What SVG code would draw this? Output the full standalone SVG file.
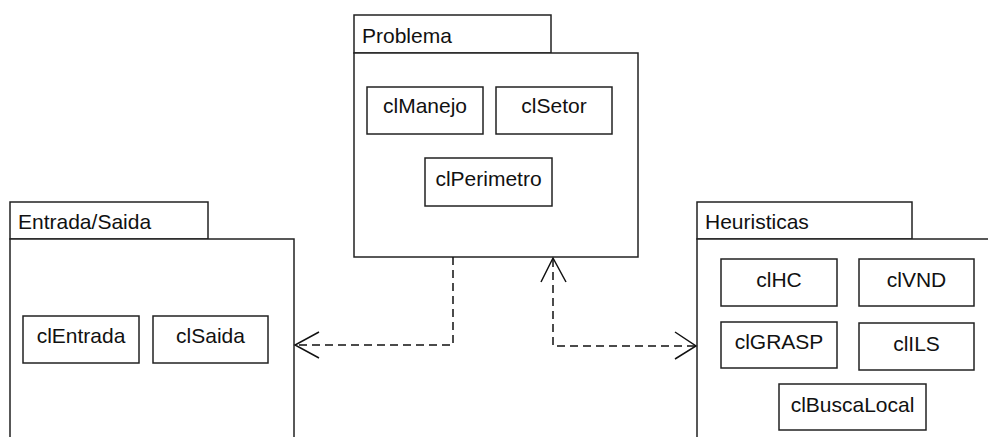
<svg xmlns="http://www.w3.org/2000/svg" width="988" height="437" viewBox="0 0 988 437">
<defs>
<style>
.box{fill:#fff;stroke:#222;stroke-width:1.5}
.t{font-family:"Liberation Sans",Arial,sans-serif;font-size:21px;fill:#111}
.c{text-anchor:middle}
.dash{fill:none;stroke:#111;stroke-width:1.5;stroke-dasharray:8,5}
.head{fill:none;stroke:#111;stroke-width:1.5}
</style>
</defs>
<rect width="988" height="437" fill="#fff"/>
<g id="pkg-problema">
<rect class="box" x="354" y="15" width="197" height="38"/>
<rect class="box" x="354" y="53" width="284" height="204"/>
<text class="t" x="362" y="43">Problema</text>
<g id="clManejo"><rect class="box" x="367" y="87" width="116" height="47"/><text class="t c" x="425" y="113">clManejo</text></g>
<g id="clSetor"><rect class="box" x="496" y="87" width="116" height="47"/><text class="t c" x="554" y="113">clSetor</text></g>
<g id="clPerimetro"><rect class="box" x="425" y="158" width="127" height="48"/><text class="t c" x="488.5" y="186">clPerimetro</text></g>
</g>
<g id="pkg-entradasaida">
<rect class="box" x="10" y="202" width="198" height="37"/>
<rect class="box" x="10" y="239" width="284" height="210"/>
<text class="t" x="18" y="229">Entrada/Saida</text>
<g id="clEntrada"><rect class="box" x="23" y="316" width="116" height="47"/><text class="t c" x="81" y="343">clEntrada</text></g>
<g id="clSaida"><rect class="box" x="153" y="316" width="115" height="47"/><text class="t c" x="210.5" y="343">clSaida</text></g>
</g>
<g id="pkg-heuristicas">
<rect class="box" x="697" y="202" width="215" height="37"/>
<rect class="box" x="697" y="239" width="310" height="210"/>
<text class="t" x="705" y="229">Heuristicas</text>
<g id="clHC"><rect class="box" x="721" y="259" width="116" height="47"/><text class="t c" x="779" y="287">clHC</text></g>
<g id="clVND"><rect class="box" x="859" y="259" width="115" height="47"/><text class="t c" x="916.5" y="287">clVND</text></g>
<g id="clGRASP"><rect class="box" x="721" y="322" width="116" height="46"/><text class="t c" x="779" y="349">clGRASP</text></g>
<g id="clILS"><rect class="box" x="859" y="323" width="115" height="47"/><text class="t c" x="916.5" y="351">clILS</text></g>
<g id="clBuscaLocal"><rect class="box" x="779" y="384" width="147" height="46"/><text class="t c" x="852.5" y="412">clBuscaLocal</text></g>
</g>
<g id="connectors">
<polyline class="dash" points="453,257 453,345 296,345"/>
<polyline class="head" points="319,332 295,345 319,358"/>
<polyline class="dash" points="553,259 553,346 695,346"/>
<polyline class="head" points="541,282 553,258 566,282"/>
<polyline class="head" points="675,332 696,346 675,359"/>
</g>
</svg>
